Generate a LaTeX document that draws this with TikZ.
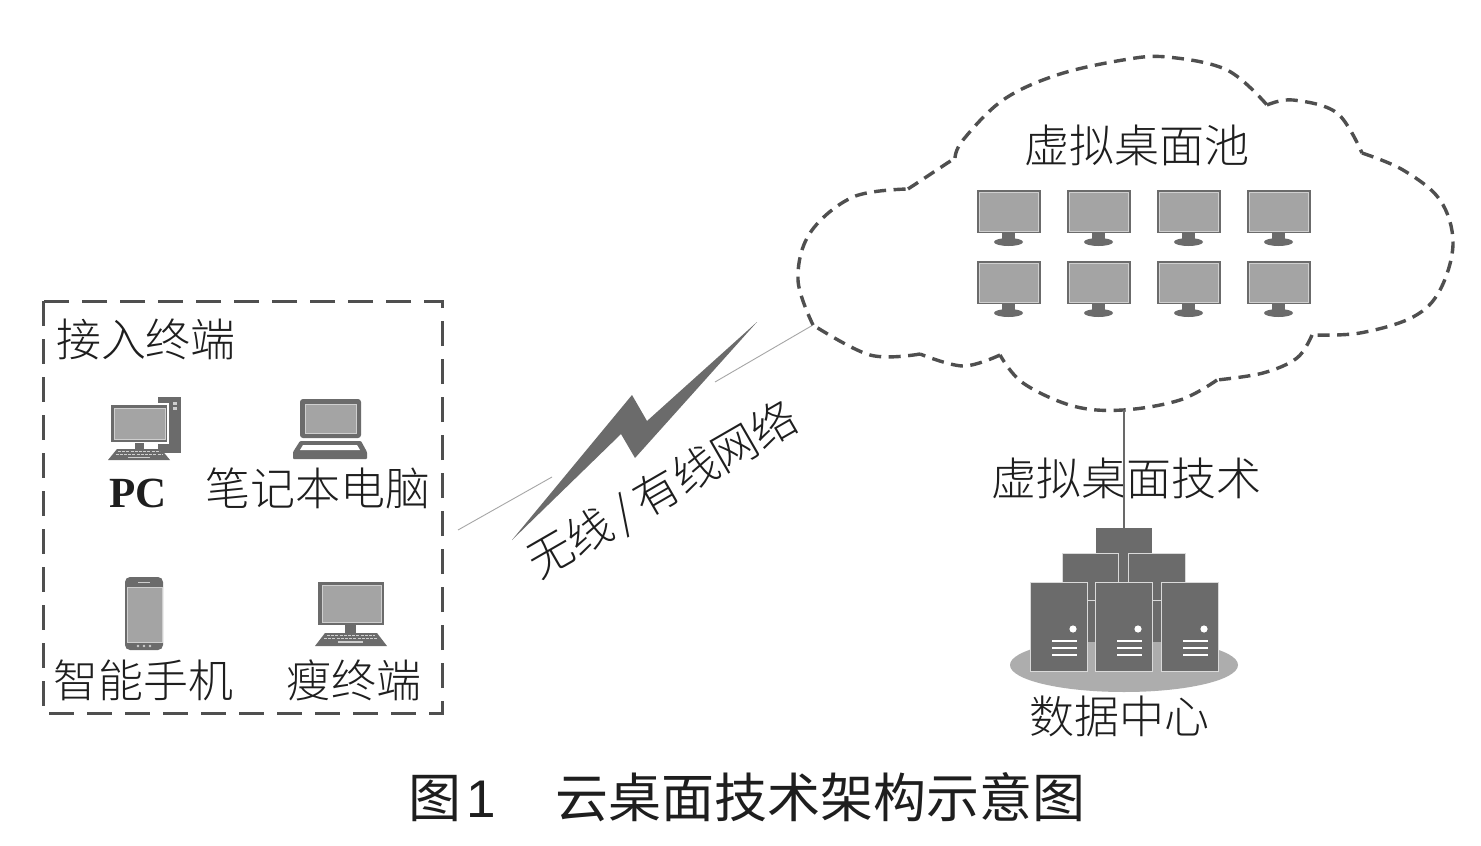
\documentclass[tikz,border=0pt]{standalone}
\usepackage{fontspec}
\setmainfont{Liberation Serif}
\newfontfamily\cjk{Noto Sans CJK SC Light}
\newfontfamily\capt{Noto Sans CJK SC}
\newfontfamily\lat{Liberation Sans}
\definecolor{dk}{HTML}{6B6B6B}
\definecolor{scr}{HTML}{A4A4A4}
\definecolor{lite}{HTML}{CFCFCF}
\definecolor{edge}{HTML}{4F4F4F}
\definecolor{ink}{HTML}{1E1E1E}
\tikzset{
  lbl/.style={inner sep=0pt,text=ink,font=\cjk\fontsize{45}{45}\selectfont},
  dkfill/.style={fill=dk,draw=none},
  screen/.style={fill=scr,draw=lite,line width=1pt},
  keyrow/.style={draw=lite,line width=1.6pt,dash pattern=on 3pt off 1.2pt},
  hair/.style={draw=black!35,line width=0.9pt},
  srv/.style={fill=dk,draw=white!75!dk,line width=1pt},
}
\newcommand{\smallmon}[2]{%
  \begin{scope}[shift={(#1,#2)}]
    \fill[dk] (0,0) rectangle (63.5,43);
    \filldraw[screen] (2,2) rectangle (61.5,41);
    \fill[dk] (25,43) rectangle (38,50);
    \fill[dk] (31.5,52) ellipse [x radius=14.5,y radius=4];
  \end{scope}}
\newcommand{\srvbox}[1]{%
  \begin{scope}[shift={(#1,582)}]
    \filldraw[srv] (0,0) rectangle (57,89);
    \fill[white] (43,47) circle [radius=3.6];
    \foreach \yy in {59,66,73} \fill[white] (22,\yy-1) rectangle (47,\yy+1);
  \end{scope}}
\begin{document}
\begin{tikzpicture}[x=1pt,y=-1pt]
\useasboundingbox (0,0) rectangle (1481,846);
\fill[white] (0,0) rectangle (1481,846);

% access box
\draw[edge,line width=3pt,dash pattern=on 25pt off 13pt] (43,301) rectangle (442,713);
\node[lbl] (access) at (146,339) {接入终端};

% PC
\fill[dk] (158,397) rectangle (181,453);
\fill[lite] (173,402) rectangle (177,405);
\fill[lite] (173,407) rectangle (177,409.5);
\filldraw[fill=dk,draw=white,line width=1.2pt] (110.5,404) rectangle (168,443);
\filldraw[screen] (114,408) rectangle (165,439);
\fill[dk] (135,443) rectangle (144,449);
\fill[dk] (117,449) -- (161,449) -- (170,460) -- (108,460) -- cycle;
\draw[keyrow] (118,451.5) -- (160,451.5);
\draw[keyrow] (115.5,454.5) -- (163,454.5);
\draw[lite,line width=1.6pt] (128,457.5) -- (150,457.5);
\node[inner sep=0pt,text=ink,font=\bfseries\fontsize{43}{43}\selectfont] (pc) at (138,493) {PC};

% laptop
\fill[dk,rounded corners=3pt] (300,399) rectangle (361,438);
\filldraw[screen] (305,404) rectangle (356,433);
\fill[dk,rounded corners=1pt] (300,441) -- (361,441) -- (367,452) -- (367,459) -- (293,459) -- (293,452) -- cycle;
\fill[white] (303,445) -- (357,445) -- (360,450) -- (300,450) -- cycle;
\node[lbl] (laptop) at (318,488) {笔记本电脑};

% phone
\fill[dk,rounded corners=5pt] (125,577) rectangle (163,650);
\filldraw[screen] (127,587) rectangle (162,642);
\draw[lite,line width=1pt] (138,582) -- (150,582);
\foreach \xx in {138,144,150} \fill[lite] (\xx,646) circle [radius=1.4];
\node[lbl] (phone) at (143,680) {智能手机};

% thin client
\fill[dk] (318,582) rectangle (384,625);
\filldraw[screen] (322,585) rectangle (381,622);
\fill[dk] (345,625) rectangle (356,633);
\fill[dk] (325,633) -- (377,633) -- (387,646) -- (315,646) -- cycle;
\draw[keyrow] (327,635.5) -- (375,635.5);
\draw[keyrow] (324,638.5) -- (378,638.5);
\draw[lite,line width=1.6pt] (338,642) -- (363,642);
\node[lbl] (thin) at (354,680) {瘦终端};

% lightning
\coordinate (hairA) at (458,530);
\coordinate (hairB) at (552,477);
\coordinate (hairC) at (715,382);
\coordinate (hairD) at (813,325);
\draw[hair] (hairA) -- (hairB);
\draw[hair] (hairC) -- (hairD);
\fill[dk] (512,540) -- (632,395) -- (647,421) -- (757,322) -- (635,458) -- (621,434) -- cycle;
\node[lbl,rotate=30] (net) at (663,491) {无线\,/\,有线网络};

% cloud
\coordinate (cloudbottom) at (1124,410);
\draw[edge,line width=3.4pt,dash pattern=on 12pt off 7.5pt,line join=miter]
  plot[smooth,tension=0.6] coordinates {(908,189) (955,158)}
  plot[smooth,tension=0.6] coordinates {(955,158) (963,140) (1003,100) (1057,75) (1123,60) (1167,57) (1227,70) (1267,105)}
  plot[smooth,tension=0.6] coordinates {(1267,105) (1293,100) (1337,113) (1362,153)}
  plot[smooth,tension=0.6] coordinates {(1362,153) (1403,170) (1440,200) (1453,243) (1440,290) (1413,317) (1360,333) (1312,335)}
  plot[smooth,tension=0.6] coordinates {(1312,335) (1297,358) (1263,373) (1217,380)}
  plot[smooth,tension=0.6] coordinates {(1217,380) (1180,400) (1123,410) (1073,406) (1023,383) (1000,355)}
  plot[smooth,tension=0.6] coordinates {(1000,355) (963,366) (920,354)}
  plot[smooth,tension=0.6] coordinates {(920,354) (870,355) (813,325)}
  plot[smooth,tension=0.6] coordinates {(813,325) (798,280) (810,233) (853,197) (908,189)};
\node[lbl] (pool) at (1137,145) {虚拟桌面池};
\foreach \cx in {977,1067,1157,1247}
  \foreach \cy in {190,261} {\smallmon{\cx}{\cy}}

% data centre
\node[lbl] (tech) at (1126,478) {虚拟桌面技术};
\fill[scr!90!white] (1124,665) ellipse [x radius=114,y radius=27];
\fill[dk] (1080,575) rectangle (1168,642);
\fill[dk] (1096,528) rectangle (1152,553);
\fill[dk] (1118,553) rectangle (1128,582);
\filldraw[srv] (1062,553) rectangle (1118,600);
\filldraw[srv] (1128,553) rectangle (1185,600);
\srvbox{1030}\srvbox{1095}\srvbox{1161}
\node[inner sep=0pt,minimum width=56pt,minimum height=1pt] (top) at (1124,528.5) {};
\draw[edge!85!white,line width=1.5pt] (cloudbottom) -- (top.north);
\node[lbl] (dc) at (1119,716) {数据中心};

% caption
\node[inner sep=0pt,text=ink,font=\capt\fontsize{53}{53}\selectfont] (cap) at (747,797)
  {图\hspace{5pt}{\lat 1}\hspace{59pt}云桌面技术架构示意图};
\end{tikzpicture}
\end{document}
